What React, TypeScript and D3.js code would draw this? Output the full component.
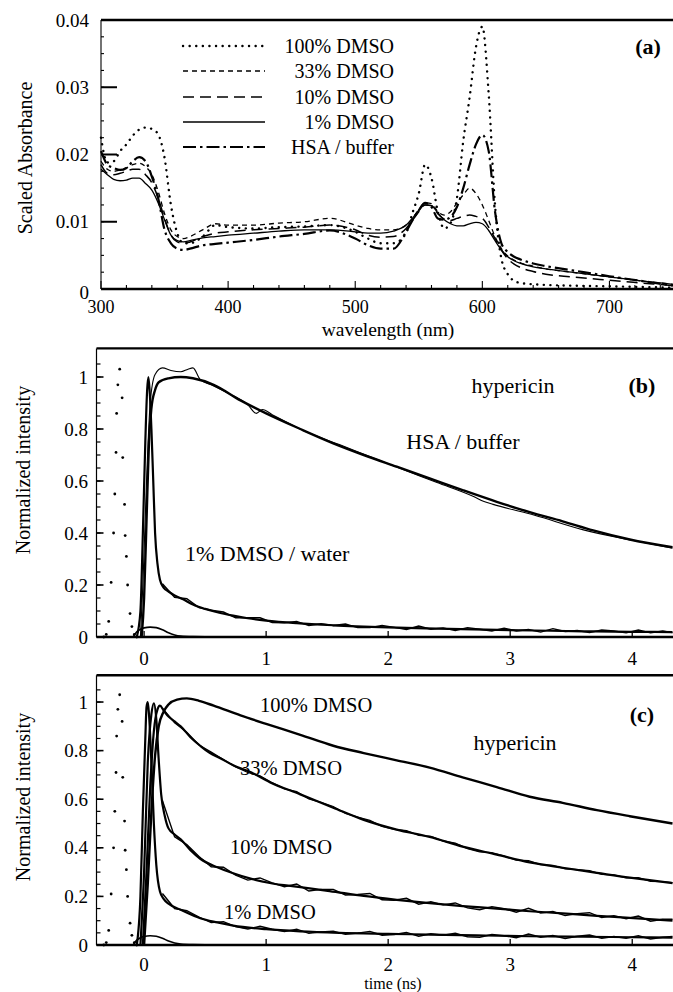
import React from "react";
import * as d3 from "d3";

const FONT = "'Liberation Serif', 'Times New Roman', Times, serif";

// ---------- Panel (a): absorbance spectra ----------
const wavelengths = [300,305,310,315,320,325,330,335,340,345,350,355,360,365,370,
  380,390,400, 420,440,460,480,500, 510,520,530,540,
  545,550,555,560,565,570,575,580,585,590,595,600,605,610,615,620,625,630,
  640,650,670,700,725,750];
const abs100 = [0.0225,0.0188,0.019,0.0205,0.0215,0.0228,0.0237,0.024,0.0238,0.023,0.0195,0.0125,0.0083,0.0068,0.0068,
  0.0078,0.0095,0.0092, 0.009,0.0092,0.0093,0.0095,0.0085, 0.0075,0.0068,0.0068,0.0083,
  0.0113,0.0142,0.0185,0.0165,0.0115,0.009,0.0098,0.0135,0.022,0.0285,0.036,0.039,0.029,0.0125,0.0045,0.0022,0.0012,0.0009,
  0.0007,0.0006,0.0005,0.0004,0.0003,0.0002];
const abs33 = [0.019,0.0178,0.0175,0.0177,0.018,0.0185,0.0187,0.0182,0.017,0.0145,0.0112,0.0088,0.0078,0.0075,0.0078,
  0.0088,0.0097,0.0095, 0.0095,0.0098,0.01,0.0105,0.0095, 0.009,0.0088,0.0088,0.0095,
  0.0105,0.0118,0.0128,0.0127,0.0115,0.011,0.0115,0.0128,0.014,0.015,0.0142,0.0125,0.0102,0.0078,0.006,0.0049,0.0043,0.0039,
  0.0034,0.003,0.0025,0.0018,0.0012,0.0007];
const abs10 = [0.0185,0.0172,0.017,0.0172,0.0175,0.0178,0.0178,0.017,0.0158,0.0135,0.0105,0.008,0.007,0.0068,0.007,
  0.0078,0.0083,0.0085, 0.0088,0.009,0.0092,0.0095,0.0088, 0.008,0.0077,0.0078,0.009,
  0.0102,0.0115,0.0125,0.0124,0.0112,0.0104,0.0102,0.0105,0.0108,0.011,0.0108,0.0105,0.0092,0.0075,0.0058,0.0045,0.0037,0.0032,
  0.0026,0.0022,0.0018,0.0013,0.0009,0.0005];
const abs1 = [0.0178,0.017,0.0163,0.0161,0.0162,0.0165,0.0165,0.0157,0.0147,0.0128,0.0103,0.008,0.0072,0.007,0.0072,
  0.0076,0.0078,0.008, 0.0083,0.0086,0.0088,0.0088,0.0085, 0.0083,0.0083,0.0086,0.0095,
  0.0105,0.0117,0.0125,0.0124,0.0113,0.0103,0.0097,0.0094,0.0094,0.0097,0.0099,0.0097,0.0087,0.0072,0.0058,0.0048,0.0042,0.0038,
  0.0033,0.003,0.0025,0.0018,0.0012,0.0007];
const absHSA = [0.0205,0.0185,0.018,0.0177,0.018,0.019,0.0196,0.019,0.0167,0.0135,0.0088,0.0068,0.006,0.0058,0.006,
  0.0065,0.0067,0.0069, 0.0073,0.0078,0.0082,0.0087,0.0075, 0.0065,0.006,0.006,0.0085,
  0.0102,0.0117,0.0128,0.0122,0.0105,0.0103,0.0107,0.0122,0.015,0.0185,0.0215,0.0229,0.0205,0.0115,0.0068,0.0055,0.0048,0.0044,
  0.0038,0.0034,0.0028,0.0019,0.0012,0.0005];

const absLegend = ["100% DMSO", "33% DMSO", "10% DMSO", "1% DMSO", "HSA / buffer"];
const absTicksX = [300, 400, 500, 600, 700];
const absTicksY = [0, 0.01, 0.02, 0.03, 0.04];
const absTickLabelsY = ["0", "0.01", "0.02", "0.03", "0.04"];

// ---------- Time-resolved data (panels b, c) ----------
const timeTicks = [0, 1, 2, 3, 4];
const intTicks = [0, 0.2, 0.4, 0.6, 0.8, 1];
const intTickLabels = ["0", "0.2", "0.4", "0.6", "0.8", "1"];

// instrument response (sampled points)
const irfT = [-0.33,-0.31,-0.29,-0.27,-0.25,-0.24,-0.23,-0.225,-0.215,-0.2,-0.18,-0.175,-0.16,-0.155,-0.145,-0.135,-0.115,-0.1,-0.08,-0.06];
const irfY = [0.0,0.01,0.06,0.21,0.40,0.55,0.71,0.86,0.97,1.03,0.92,0.69,0.51,0.39,0.31,0.2,0.09,0.04,0.01,0.0];

// small scatter bump near zero
const bumpT = [-0.09,-0.06,-0.03,0.0,0.05,0.1,0.15,0.2,0.25,0.3,0.4,0.6,1.0,2.0,3.0,4.33];
const bumpY = [0,0.02,0.03,0.035,0.038,0.036,0.028,0.016,0.008,0.004,0.002,0.001,0.001,0.001,0.001,0.001];

// noisy-data time grid
const tailT = [0.15,0.25,0.35,0.45,0.55,0.65,0.75,0.85,0.95,1.05,1.15,1.25,1.35,1.45,1.55,1.65,1.75,1.85,1.95,2.05,
  2.15,2.25,2.35,2.45,2.55,2.65,2.75,2.85,2.95,3.05,3.15,3.25,3.35,3.45,3.55,3.65,3.75,3.85,3.95,4.05,4.15,4.25,4.33];

// panel b
const hsaFitT = [-0.02,0.0,0.02,0.04,0.06,0.09,0.12,0.2,0.3,0.4,0.57,0.79,1.0,1.28,1.55,1.8,2.07,2.34,2.61,2.89,3.16,3.43,3.68,3.98,4.33];
const hsaFitY = [0,0.15,0.45,0.75,0.88,0.95,0.98,0.995,1.0,0.995,0.97,0.91,0.86,0.8,0.745,0.7,0.655,0.61,0.565,0.52,0.48,0.445,0.41,0.375,0.345];
const hsaDataT = [-0.03,-0.01,0.02,0.05,0.09,0.15,0.22,0.3,0.36,0.4,0.46,0.55,0.7,0.85,0.92,0.97,1.05,1.3,1.6,2.0,2.4,2.7,2.78,2.86,3.2,3.6,4.0,4.33];
const hsaDataY = [0,0.2,0.6,0.9,1.01,1.035,1.025,1.02,1.03,1.035,0.99,0.97,0.935,0.893,0.86,0.875,0.855,0.795,0.74,0.666,0.594,0.54,0.522,0.51,0.468,0.412,0.372,0.342];
const w1FitT = [-0.06,-0.03,-0.01,0.01,0.025,0.035,0.045,0.06,0.075,0.09,0.11,0.13,0.16,0.2,0.25,0.32,0.4,0.5,0.6,0.73,0.85,1.0,1.25,1.55,2.0,2.4,2.8,3.2,3.6,4.0,4.33];
const w1FitY = [0,0.1,0.4,0.75,0.95,1.0,0.95,0.8,0.6,0.4,0.28,0.22,0.19,0.175,0.16,0.145,0.125,0.108,0.095,0.082,0.072,0.063,0.053,0.045,0.037,0.032,0.028,0.025,0.022,0.02,0.019];
const w1Data = [0.205,0.153,0.147,0.113,0.103,0.096,0.074,0.074,0.074,0.056,0.055,0.06,0.044,0.051,0.044,0.05,0.036,0.036,0.044,0.037,
  0.029,0.042,0.03,0.035,0.025,0.036,0.03,0.023,0.034,0.023,0.029,0.019,0.032,0.021,0.025,0.017,0.027,0.023,0.016,0.027,0.016,0.023,0.017];

// panel c
const d100T = [0.0,0.03,0.06,0.09,0.12,0.16,0.2,0.27,0.35,0.45,0.57,0.79,1.0,1.28,1.55,1.8,2.07,2.34,2.61,2.89,3.16,3.43,3.71,3.98,4.33];
const d100Y = [0,0.25,0.55,0.78,0.9,0.96,0.99,1.01,1.015,1.005,0.985,0.945,0.91,0.865,0.82,0.79,0.76,0.73,0.69,0.65,0.61,0.585,0.555,0.53,0.5];
const d33T = [-0.01,0.02,0.05,0.08,0.11,0.13,0.16,0.2,0.25,0.3,0.38,0.46,0.54,0.62,0.73,0.88,1.03,1.28,1.55,1.8,2.07,2.34,2.61,2.89,3.16,3.43,3.71,3.98,4.33];
const d33Y = [0,0.3,0.65,0.88,0.97,0.985,0.965,0.94,0.92,0.9,0.855,0.82,0.79,0.77,0.74,0.71,0.67,0.62,0.565,0.515,0.475,0.445,0.405,0.372,0.34,0.318,0.297,0.277,0.255];
const d33Data = [0.975,0.915,0.876,0.823,0.794,0.763,0.733,0.71,0.696,0.668,0.643,0.631,0.601,0.587,0.57,0.542,0.526,0.513,0.488,0.476,
  0.471,0.451,0.447,0.428,0.419,0.397,0.383,0.38,0.366,0.349,0.347,0.331,0.328,0.313,0.31,0.306,0.291,0.289,0.276,0.277,0.262,0.261,0.257];
const d10T = [-0.03,0.0,0.03,0.06,0.08,0.1,0.12,0.14,0.17,0.2,0.25,0.3,0.38,0.46,0.6,0.73,0.88,1.03,1.28,1.52,1.8,2.07,2.34,2.61,2.89,3.16,3.43,3.71,3.98,4.33];
const d10Y = [0,0.3,0.75,0.95,0.995,0.93,0.76,0.62,0.53,0.48,0.455,0.435,0.39,0.355,0.32,0.295,0.272,0.255,0.238,0.222,0.202,0.186,0.172,0.16,0.15,0.139,0.13,0.12,0.112,0.1];
const d10Data = [0.595,0.445,0.413,0.364,0.322,0.32,0.288,0.267,0.276,0.256,0.24,0.251,0.222,0.229,0.229,0.206,0.208,0.212,0.186,0.184,
  0.192,0.168,0.178,0.165,0.173,0.153,0.145,0.158,0.149,0.135,0.151,0.132,0.138,0.121,0.129,0.133,0.113,0.121,0.108,0.119,0.098,0.106,0.106];
const d1T = [-0.06,-0.03,-0.01,0.01,0.02,0.03,0.04,0.06,0.08,0.1,0.13,0.16,0.2,0.3,0.46,0.6,0.73,1.0,1.28,1.6,2.0,2.34,2.8,3.16,3.6,4.0,4.33];
const d1Y = [0,0.2,0.55,0.85,0.98,1.0,0.95,0.75,0.5,0.33,0.22,0.19,0.17,0.145,0.11,0.093,0.08,0.065,0.056,0.05,0.046,0.043,0.039,0.036,0.034,0.032,0.03];
const d1Data = [0.212,0.15,0.141,0.115,0.092,0.096,0.076,0.066,0.077,0.065,0.055,0.065,0.048,0.054,0.057,0.044,0.049,0.056,0.04,0.043,
  0.052,0.036,0.046,0.04,0.048,0.034,0.032,0.043,0.038,0.03,0.045,0.032,0.039,0.027,0.036,0.041,0.028,0.035,0.028,0.038,0.025,0.032,0.035];

type Sc = d3.ScaleLinear<number, number>;

function pathOf(xs: number[], ys: number[], sx: Sc, sy: Sc, curve: d3.CurveFactory = d3.curveMonotoneX): string {
  const n = Math.min(xs.length, ys.length);
  const pts: [number, number][] = [];
  for (let i = 0; i < n; i++) pts.push([xs[i], ys[i]]);
  return d3.line<[number, number]>().x(d => sx(d[0])).y(d => sy(d[1])).curve(curve)(pts) || "";
}

const xA = d3.scaleLinear().domain([300, 750]).range([101, 673]);
const yA = d3.scaleLinear().domain([0, 0.04]).range([289, 20]);
const xT = d3.scaleLinear().domain([-0.39, 4.33]).range([96.5, 672.5]);
const yB = d3.scaleLinear().domain([0, 1.11]).range([637, 348.4]);
const yC = d3.scaleLinear().domain([0, 1.11]).range([945, 675.3]);

const absStyles = [
  { d: abs100, dash: "0.1 6.5", w: 2.4, cap: "round" as const },
  { d: abs33, dash: "5 4", w: 1.3, cap: "butt" as const },
  { d: abs10, dash: "11 6", w: 1.5, cap: "butt" as const },
  { d: abs1, dash: "", w: 1.3, cap: "butt" as const },
  { d: absHSA, dash: "13 4 2.5 4", w: 2.2, cap: "butt" as const },
];

function TimeFrame({ sy, ylabelY, tickLabelY }: { sy: Sc; ylabelY: number; tickLabelY: number }) {
  const [y0, yTop] = sy.range();
  const x0 = xT.range()[0];
  const x1 = xT.range()[1] + 0.5;
  const minor = d3.range(0, 1.1, 0.05);
  return (
    <g>
      <line x1={x0} x2={x1} y1={yTop} y2={yTop} stroke="#000" strokeWidth={2.4} />
      <line x1={x0} x2={x1} y1={y0} y2={y0} stroke="#000" strokeWidth={2.6} />
      <line x1={x0} x2={x0} y1={yTop} y2={y0} stroke="#000" strokeWidth={1.2} />
      {minor.map((v, i) => (
        <line key={"m" + i} x1={x0} x2={x0 + 4} y1={sy(v)} y2={sy(v)} stroke="#000" strokeWidth={1.2} />
      ))}
      {intTicks.map((v, i) => (
        <g key={"t" + i}>
          <line x1={x0} x2={x0 + 7} y1={sy(v)} y2={sy(v)} stroke="#000" strokeWidth={1.6} />
          <text x={88} y={sy(v)} dy="0.35em" textAnchor="end" fontSize={19} fontFamily={FONT}>{intTickLabels[i]}</text>
        </g>
      ))}
      {timeTicks.map((t, i) => (
        <g key={"x" + i}>
          <line x1={xT(t)} x2={xT(t)} y1={y0} y2={y0 - 6} stroke="#000" strokeWidth={1.3} />
          <text x={xT(t)} y={tickLabelY} dy="0.35em" textAnchor="middle" fontSize={19} fontFamily={FONT}>{t}</text>
        </g>
      ))}
      <text transform={`translate(23,${ylabelY}) rotate(-90)`} textAnchor="middle" dy="0.35em" fontSize={20} fontFamily={FONT}>
        Normalized intensity
      </text>
      {irfT.map((t, i) => (
        <circle key={"i" + i} cx={xT(t)} cy={sy(irfY[i])} r={1.4} fill="#000" />
      ))}
      <path d={pathOf(bumpT, bumpY, xT, sy)} fill="none" stroke="#000" strokeWidth={1.6} />
    </g>
  );
}

export default function App() {
  const aMinorY = d3.range(0, 0.0401, 0.0025);
  const aMinorX = d3.range(300, 751, 20);
  const legendRows = [46, 71, 97, 122, 147];
  return (
    <svg width={673} height={992} viewBox="0 0 673 992"
      style={{ position: "absolute", left: 0, top: 0, background: "#fff" }}>
      <rect x={0} y={0} width={673} height={992} fill="#fff" />
      {/* ---------- panel a ---------- */}
      <g>
        <line x1={101} x2={673} y1={yA(0.04)} y2={yA(0.04)} stroke="#000" strokeWidth={2.6} />
        <line x1={101} x2={673} y1={yA(0)} y2={yA(0)} stroke="#000" strokeWidth={2.6} />
        <line x1={101} x2={101} y1={yA(0.04)} y2={yA(0)} stroke="#000" strokeWidth={1.1} />
        {aMinorY.map((v, i) => (
          <line key={"am" + i} x1={101} x2={104} y1={yA(v)} y2={yA(v)} stroke="#000" strokeWidth={1.1} />
        ))}
        {absTicksY.map((v, i) => (
          <g key={"ay" + i}>
            {v > 0 && v < 0.04 ? <line x1={101} x2={117} y1={yA(v)} y2={yA(v)} stroke="#000" strokeWidth={2} /> : null}
            <text x={89} y={yA(v) + (v === 0 ? 3 : 0)} dy="0.35em" textAnchor="end" fontSize={19} fontFamily={FONT}>{absTickLabelsY[i]}</text>
          </g>
        ))}
        {aMinorX.map((v, i) => (
          <line key={"ax" + i} x1={xA(v)} x2={xA(v)} y1={yA(0)} y2={yA(0) - (v % 100 === 0 ? 8 : 4)} stroke="#000" strokeWidth={1.1} />
        ))}
        {absTicksX.map((v, i) => (
          <text key={"axl" + i} x={xA(v)} y={307} dy="0.35em" textAnchor="middle" fontSize={18} fontFamily={FONT}>{v}</text>
        ))}
        <text x={388} y={329} dy="0.35em" textAnchor="middle" fontSize={19.5} fontFamily={FONT}>wavelength (nm)</text>
        <text transform="translate(25,158) rotate(-90)" textAnchor="middle" dy="0.35em" fontSize={20} fontFamily={FONT}>
          Scaled Absorbance
        </text>
        {absStyles.map((s, i) => (
          <path key={"ap" + i} d={pathOf(wavelengths, s.d, xA, yA)} fill="none" stroke="#000"
            strokeWidth={s.w} strokeDasharray={s.dash || undefined} strokeLinecap={s.cap} />
        ))}
        {absStyles.map((s, i) => (
          <g key={"lg" + i}>
            <line x1={183} x2={265} y1={legendRows[i]} y2={legendRows[i]} stroke="#000"
              strokeWidth={s.w} strokeDasharray={s.dash || undefined} strokeLinecap={s.cap} />
            <text x={394} y={legendRows[i]} dy="0.35em" textAnchor="end" fontSize={20} fontFamily={FONT}>{absLegend[i]}</text>
          </g>
        ))}
        <text x={648} y={46} dy="0.35em" textAnchor="middle" fontSize={22} fontWeight="bold" fontFamily={FONT}>(a)</text>
      </g>

      {/* ---------- panel b ---------- */}
      <g>
        <TimeFrame sy={yB} ylabelY={470} tickLabelY={658} />
        <path d={pathOf(hsaDataT, hsaDataY, xT, yB)} fill="none" stroke="#000" strokeWidth={1.1} />
        <path d={pathOf(hsaFitT, hsaFitY, xT, yB)} fill="none" stroke="#000" strokeWidth={2.4} />
        <path d={pathOf(w1FitT, w1FitY, xT, yB)} fill="none" stroke="#000" strokeWidth={2.2} />
        <path d={pathOf(tailT, w1Data, xT, yB, d3.curveLinear)} fill="none" stroke="#000" strokeWidth={1.4} />
        <text x={513} y={385} dy="0.35em" textAnchor="middle" fontSize={22} fontFamily={FONT}>hypericin</text>
        <text x={642} y={385} dy="0.35em" textAnchor="middle" fontSize={22} fontWeight="bold" fontFamily={FONT}>(b)</text>
        <text x={463} y={441} dy="0.35em" textAnchor="middle" fontSize={22} fontFamily={FONT}>HSA / buffer</text>
        <text x={185} y={553} dy="0.35em" textAnchor="start" fontSize={22} fontFamily={FONT}>1% DMSO / water</text>
      </g>

      {/* ---------- panel c ---------- */}
      <g>
        <TimeFrame sy={yC} ylabelY={797} tickLabelY={964} />
        <path d={pathOf(d100T, d100Y, xT, yC)} fill="none" stroke="#000" strokeWidth={2.4} />
        <path d={pathOf(d33T, d33Y, xT, yC)} fill="none" stroke="#000" strokeWidth={2.2} />
        <path d={pathOf(tailT, d33Data, xT, yC, d3.curveLinear)} fill="none" stroke="#000" strokeWidth={1.3} />
        <path d={pathOf(d10T, d10Y, xT, yC)} fill="none" stroke="#000" strokeWidth={2.2} />
        <path d={pathOf(tailT, d10Data, xT, yC, d3.curveLinear)} fill="none" stroke="#000" strokeWidth={1.4} />
        <path d={pathOf(d1T, d1Y, xT, yC)} fill="none" stroke="#000" strokeWidth={2.2} />
        <path d={pathOf(tailT, d1Data, xT, yC, d3.curveLinear)} fill="none" stroke="#000" strokeWidth={1.4} />
        <text x={260} y={705} dy="0.35em" textAnchor="start" fontSize={20.5} fontFamily={FONT}>100% DMSO</text>
        <text x={642} y={714} dy="0.35em" textAnchor="middle" fontSize={22} fontWeight="bold" fontFamily={FONT}>(c)</text>
        <text x={515} y={742} dy="0.35em" textAnchor="middle" fontSize={22} fontFamily={FONT}>hypericin</text>
        <text x={240} y={768} dy="0.35em" textAnchor="start" fontSize={20.5} fontFamily={FONT}>33% DMSO</text>
        <text x={230} y={847} dy="0.35em" textAnchor="start" fontSize={20.5} fontFamily={FONT}>10% DMSO</text>
        <text x={224} y={912} dy="0.35em" textAnchor="start" fontSize={20.5} fontFamily={FONT}>1% DMSO</text>
        <text x={393} y={983} dy="0.35em" textAnchor="middle" fontSize={16} fontFamily={FONT}>time (ns)</text>
      </g>
    </svg>
  );
}
